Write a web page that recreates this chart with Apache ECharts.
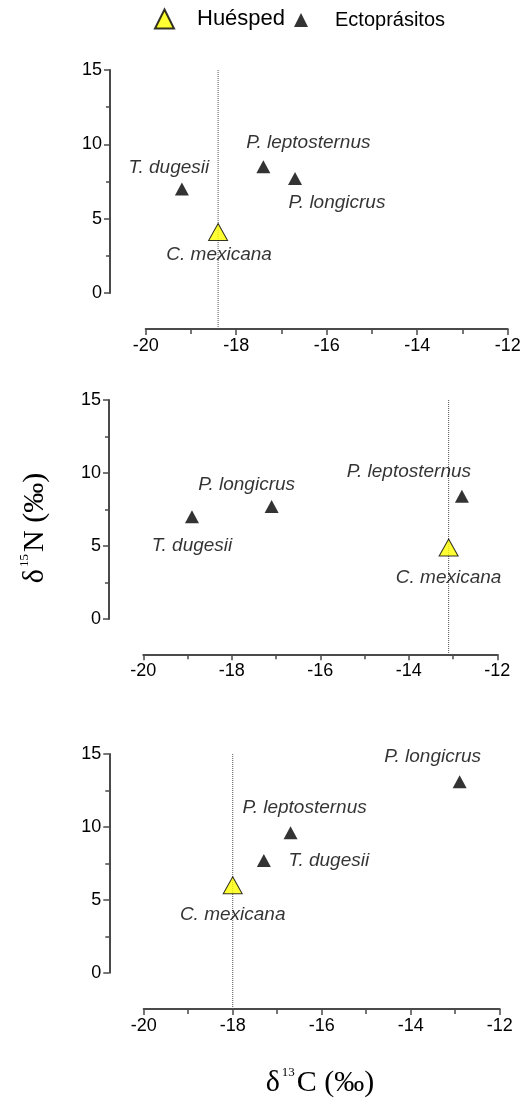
<!DOCTYPE html>
<html>
<head>
<meta charset="utf-8">
<script src="https://cdn.jsdelivr.net/npm/echarts@6/dist/echarts.min.js"></script>
<style>html,body{margin:0;padding:0;background:#fff}#container{width:524px;height:1099px}</style>
</head>
<body>
<div id="container"></div>
<script>
// valores δ13C, δ15N de cada panel
var xRange = [-20, -12];
var yRange = [0, 15];
var hostName = 'C. mexicana';
var host1 = [-18.4, 4.1];
var host2 = [-13.1, 4.9];
var host3 = [-18.0, 6.0];
var ectoNames1 = ['T. dugesii', 'P. leptosternus', 'P. longicrus'];
var ecto1 = [[-19.2, 7.0], [-17.4, 8.5], [-16.7, 7.7]];
var ectoNames2 = ['T. dugesii', 'P. longicrus', 'P. leptosternus'];
var ecto2 = [[-18.9, 7.0], [-17.1, 7.7], [-12.8, 8.4]];
var ectoNames3 = ['T. dugesii', 'P. leptosternus', 'P. longicrus'];
var ecto3 = [[-17.3, 7.7], [-16.7, 9.6], [-12.9, 13.1]];

// posicion de las etiquetas (px)
var hostOffsets = [[1, 23], [0, 30], [0, 29]];
var ectoOffsets = [
    [[-13, -21], [45, -24], [42, 24]],
    [[0, 29], [-25, -22], [-53, -25]],
    [[65, 0], [14, -25], [-27, -25]]
];
var panels = [
    {left: 145.7, right: 16.3, top: 70, height: 223, xOff: 36, yOff: 35.7},
    {left: 143.3, right: 26.7, top: 400, height: 219, xOff: 35.3, yOff: 34.3},
    {left: 143.7, right: 24.3, top: 754, height: 218.7, xOff: 36.3, yOff: 34.4}
];

var hosts = [host1, host2, host3];
var ectos = [ecto1, ecto2, ecto3];
var ectoNames = [ectoNames1, ectoNames2, ectoNames3];

var dom = document.getElementById("container");
var myChart = echarts.init(dom);

var axisColor = '#4a4a4a';
var tickFont = {fontFamily: 'Liberation Sans', fontSize: 18, color: '#000'};
var labelStyle = {
    show: true,
    position: 'inside',
    fontFamily: 'Liberation Sans',
    fontStyle: 'italic',
    fontSize: 19,
    color: '#000'
};

var grid = [], xAxis = [], yAxis = [], series = [];
panels.forEach(function (p, i) {
    grid.push({left: p.left, right: p.right, top: p.top, height: p.height});
    xAxis.push({
        type: 'value', gridIndex: i, min: xRange[0], max: xRange[1], interval: 2,
        position: 'bottom', offset: p.xOff,
        axisLine: {onZero: false, lineStyle: {color: axisColor, width: 2}},
        axisTick: {length: 6, lineStyle: {color: axisColor, width: 1.5}},
        minorTick: {show: true, splitNumber: 2, length: 5, lineStyle: {color: axisColor, width: 1.5}},
        splitLine: {show: false},
        axisLabel: tickFont
    });
    yAxis.push({
        type: 'value', gridIndex: i, min: yRange[0], max: yRange[1], interval: 5,
        position: 'left', offset: p.yOff,
        axisLine: {show: true, onZero: false, lineStyle: {color: axisColor, width: 2}},
        axisTick: {show: true, length: 6, lineStyle: {color: axisColor, width: 1.5}},
        minorTick: {show: true, splitNumber: 2, length: 4, lineStyle: {color: axisColor, width: 1.5}},
        splitLine: {show: false},
        axisLabel: tickFont
    });

    // linea punteada del huesped, baja hasta el eje x
    var low = -p.xOff / (p.height / (yRange[1] - yRange[0]));
    series.push({
        type: 'line', xAxisIndex: i, yAxisIndex: i, silent: true,
        clip: false, symbol: 'none', z: 1,
        data: [[hosts[i][0], yRange[1]], [hosts[i][0], low]],
        lineStyle: {type: 'dotted', color: '#555', width: 1}
    });

    series.push({
        name: 'Ectoprásitos', type: 'scatter', xAxisIndex: i, yAxisIndex: i,
        symbol: 'triangle', symbolSize: [14, 13], z: 3,
        itemStyle: {color: '#000'},
        data: ectos[i].map(function (d, j) {
            return {
                value: d, name: ectoNames[i][j],
                label: echarts.util.extend({formatter: '{b}', offset: ectoOffsets[i][j]}, labelStyle)
            };
        })
    });
    series.push({
        name: 'Huésped', type: 'scatter', xAxisIndex: i, yAxisIndex: i,
        symbol: 'triangle', symbolSize: [19, 17], z: 4,
        itemStyle: {color: '#ffff00', borderColor: '#000', borderWidth: 1},
        data: [{
            value: hosts[i], name: hostName,
            label: echarts.util.extend({formatter: '{b}', offset: hostOffsets[i]}, labelStyle)
        }]
    });
});

var titleRich = {
    d: {fontFamily: 'Liberation Serif', fontSize: 30, lineHeight: 34, color: '#000'},
    s: {fontFamily: 'Liberation Serif', fontSize: 13, lineHeight: 34, verticalAlign: 'top', color: '#000', padding: [0, 2, 0, 2]}
};

option = {
    animation: false,
    legend: [{
        data: ['Huésped'], left: 154, top: 8, padding: 0,
        itemWidth: 19, itemHeight: 19, icon: 'triangle',
        textStyle: {fontFamily: 'Liberation Sans', fontSize: 22, color: '#000', padding: [0, 0, 0, 18]}
    }, {
        data: ['Ectoprásitos'], left: 294, top: 10, padding: 0,
        itemWidth: 14, itemHeight: 14, icon: 'triangle',
        textStyle: {fontFamily: 'Liberation Sans', fontSize: 20, color: '#000', padding: [0, 0, 0, 22]}
    }],
    grid: grid,
    xAxis: xAxis,
    yAxis: yAxis,
    series: series,
    graphic: [{
        type: 'text', x: 35, y: 528, rotation: Math.PI / 2,
        style: {text: '{d|δ}{s|15}{d|N (‰)}', rich: titleRich, align: 'center', verticalAlign: 'middle'}
    }, {
        type: 'text', x: 320, y: 1083,
        style: {text: '{d|δ}{s|13}{d|C (‰)}', rich: titleRich, align: 'center', verticalAlign: 'middle'}
    }]
};
if (option && typeof option === "object") {
    myChart.setOption(option, true);
}
</script>
</body>
</html>
